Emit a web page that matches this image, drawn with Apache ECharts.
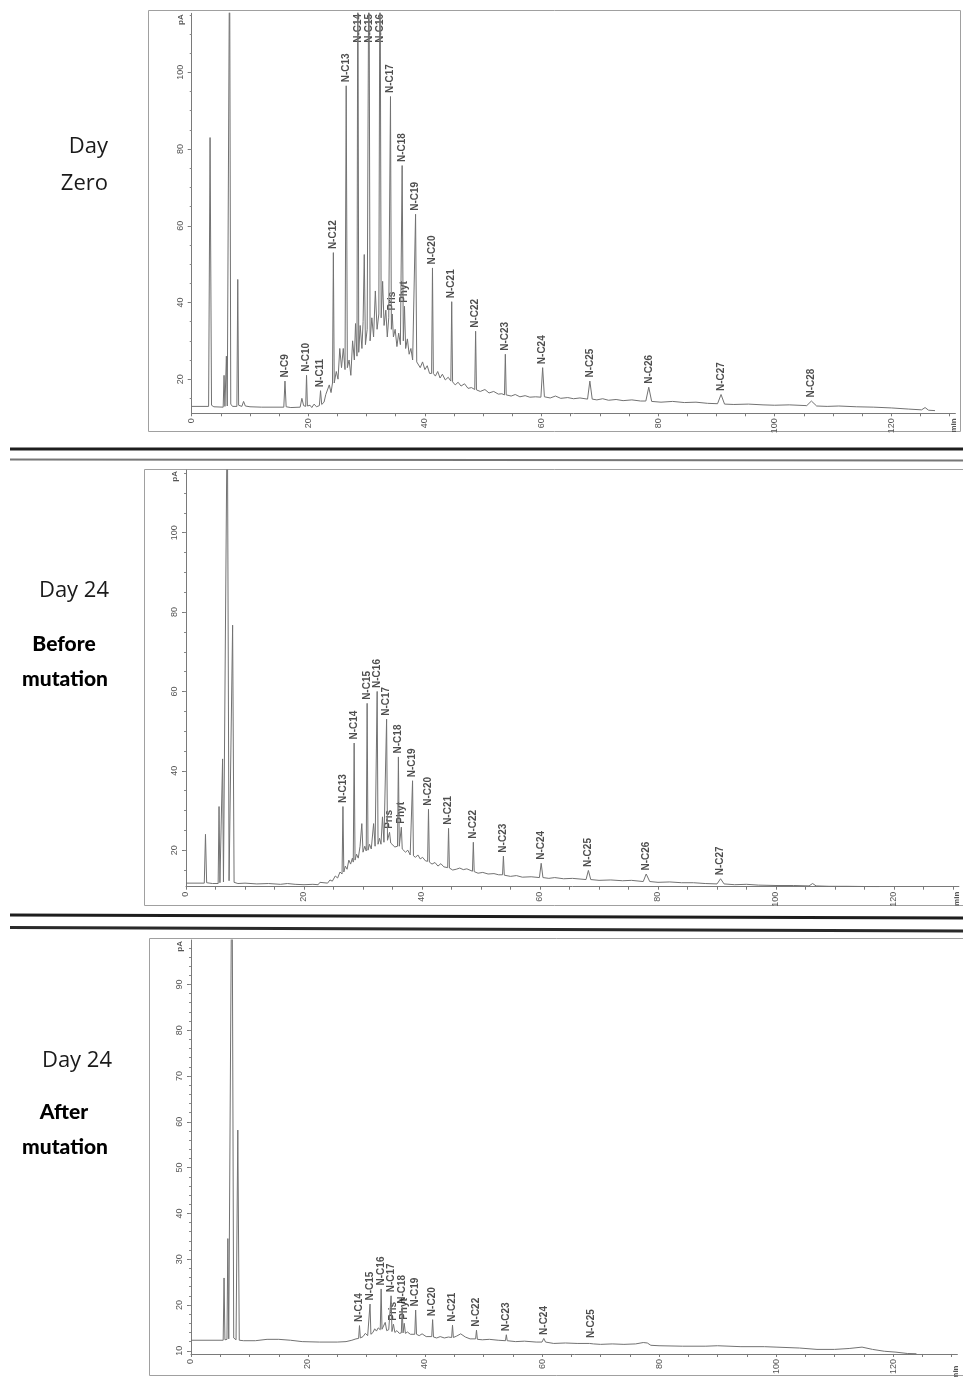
<!DOCTYPE html>
<html>
<head>
<meta charset="utf-8">
<script src="https://cdn.jsdelivr.net/npm/echarts@6/dist/echarts.min.js"></script>
<style>
  html, body { margin: 0; padding: 0; background: #fff; }
  #chart { width: 963px; height: 1377px; }
</style>
</head>
<body>
<div id="chart"></div>
<script>
// GC-FID traces: [retention time (min), signal (pA)]

// Day zero
const day0Trace = [
  [0, 12.9], [2.9, 12.9], [3.15, 83], [3.4, 13.2], [3.8, 12.8], [5.4, 12.7], [5.55, 21], [5.7, 12.9],
  [5.95, 26], [6.1, 13], [6.3, 13.5], [6.5, 135], [6.7, 13.5], [7.0, 12.9], [7.75, 12.9], [7.9, 46],
  [8.05, 13.2], [8.6, 12.9], [8.9, 14.2], [9.2, 13], [10, 12.8], [12, 12.7], [15.8, 12.7], [16.0, 19.5],
  [16.2, 12.8], [17, 12.6], [18.6, 12.7], [18.9, 15], [19.2, 13.1], [19.55, 12.9], [19.7, 21], [19.85, 13.0],
  [20.3, 13.2], [20.6, 12.6], [21.0, 13.5], [21.4, 12.8], [21.9, 13.1], [22.1, 17], [22.3, 13.4], [22.7, 14],
  [23.0, 16], [23.3, 15.5], [23.6, 18.5], [23.9, 16.5], [24.15, 19], [24.3, 53], [24.45, 19], [24.8, 22],
  [25.1, 20], [25.4, 28], [25.7, 23], [26.0, 28], [26.3, 22.5], [26.5, 96.5], [26.7, 23], [27.0, 25],
  [27.3, 21], [27.6, 30], [27.9, 25], [28.1, 34.5], [28.35, 26], [28.5, 140], [28.65, 27], [28.9, 34],
  [29.2, 28], [29.4, 35], [29.6, 52.5], [29.8, 29], [30.1, 33], [30.4, 140], [30.6, 30], [30.9, 36],
  [31.2, 31], [31.5, 43], [31.8, 33], [32.1, 37], [32.3, 140], [32.5, 36], [32.75, 45.5], [33.0, 34],
  [33.3, 38], [33.55, 31], [33.8, 36], [34.1, 93.7], [34.25, 33], [34.4, 37], [34.6, 31], [34.9, 33],
  [35.2, 28.5], [35.5, 32], [35.8, 29], [36.1, 75.7], [36.3, 30], [36.5, 39], [36.7, 28], [37.0, 30.5],
  [37.3, 26.5], [37.6, 28], [37.9, 25], [38.15, 25.5], [38.4, 63], [38.6, 24.5], [38.9, 25], [39.2, 23],
  [39.6, 24.5], [40.0, 22.5], [40.4, 23.5], [40.8, 21.5], [41.15, 21.5], [41.3, 49], [41.45, 21.5], [41.8, 20.8],
  [42.2, 22], [42.6, 20.3], [43.0, 21.3], [43.5, 19.8], [44.0, 20.5], [44.45, 19.5], [44.6, 40.2], [44.75, 19.3],
  [45.2, 18.5], [45.7, 19.2], [46.2, 18.2], [46.8, 18.8], [47.4, 17.6], [48.0, 17.8], [48.55, 17.3], [48.7, 32.5],
  [48.85, 17.2], [49.5, 16.8], [50.3, 17.3], [51, 16.4], [51.8, 16.8], [52.6, 16.1], [53.2, 16.2], [53.65, 15.9],
  [53.8, 26.5], [53.95, 15.9], [54.8, 15.6], [55.5, 16.0], [56.3, 15.4], [57.2, 15.7], [58.0, 15.3], [59.0, 15.4],
  [59.9, 15.3], [60.2, 23], [60.5, 15.4], [61.5, 15.1], [62.4, 15.6], [63.3, 15.0], [64.5, 15.2], [65.5, 14.9],
  [66.6, 15.1], [67.9, 14.8], [68.3, 19.5], [68.7, 14.8], [69.5, 14.6], [70.5, 14.9], [71.5, 14.5], [72.8, 14.7],
  [74.0, 14.4], [75.5, 14.6], [77.0, 14.3], [77.9, 14.3], [78.4, 17.9], [78.9, 14.2], [80.5, 14.0], [82.5, 14.2],
  [84.5, 13.9], [86.5, 14.0], [88.5, 13.7], [90.2, 13.6], [90.8, 16], [91.4, 13.5], [93.0, 13.4], [95.5, 13.5],
  [98, 13.3], [100, 13.2], [102.5, 13.3], [105.5, 13.1], [106.3, 14.3], [107.2, 13.0], [109, 12.9], [111, 13.0],
  [114, 12.8], [117, 12.7], [120, 12.5], [123, 12.2], [125.2, 12.0], [125.8, 12.6], [126.4, 11.9], [127.5, 11.8]
];
const day0PeakNames = ['N-C9', 'N-C10', 'N-C11', 'N-C12', 'N-C13', 'N-C14', 'N-C15', 'N-C16', 'N-C17', 'Pris',
  'N-C18', 'Phyt', 'N-C19', 'N-C20', 'N-C21', 'N-C22', 'N-C23', 'N-C24', 'N-C25', 'N-C26', 'N-C27', 'N-C28'];
const day0PeakTimes = [16.0, 19.7, 22.1, 24.3, 26.5, 28.5, 30.4, 32.3, 34.1, 34.4,
  36.1, 36.5, 38.4, 41.3, 44.6, 48.7, 53.8, 60.2, 68.3, 78.4, 90.8, 106.3];

// Day 24, before mutation
const day24BeforeTrace = [
  [0, 11.7], [3.1, 11.7], [3.3, 24], [3.5, 11.8], [4.5, 11.6], [5.45, 11.6], [5.6, 31], [5.75, 11.8],
  [6.05, 11.9], [6.2, 43], [6.35, 12], [6.5, 12.2], [7.0, 135], [7.3, 12.3], [7.6, 11.8], [7.9, 76.7],
  [8.15, 11.9], [8.8, 11.6], [10, 11.7], [12, 11.5], [14, 11.6], [16, 11.4], [17.2, 11.6], [18.5, 11.4],
  [20, 11.3], [21.5, 11.4], [22.4, 11.3], [22.7, 11.9], [23.0, 11.5], [24.0, 11.7], [24.4, 12.5], [24.8, 12.2],
  [25.3, 13.5], [25.7, 13], [26.1, 14.5], [26.45, 14], [26.6, 31], [26.75, 14.5], [27.0, 16], [27.3, 15.2],
  [27.6, 17.5], [27.9, 16.5], [28.2, 18], [28.35, 17], [28.5, 47], [28.65, 17.5], [28.9, 19], [29.2, 18],
  [29.5, 21], [29.8, 26.7], [30.0, 19.5], [30.3, 21], [30.55, 19.8], [30.7, 57], [30.85, 20], [31.1, 21.5],
  [31.4, 20.3], [31.8, 26.7], [32.05, 21], [32.2, 21.5], [32.4, 60], [32.55, 21.5], [32.8, 23], [33.05, 21.5],
  [33.3, 28.4], [33.55, 22], [33.85, 22], [34.0, 53], [34.15, 22.5], [34.35, 22], [34.5, 24.5], [34.7, 21.8],
  [35.0, 22.3], [35.4, 20.8], [35.85, 21], [36.0, 43.5], [36.15, 21], [36.5, 25.8], [36.65, 20.3], [36.9, 20.6],
  [37.2, 19.5], [37.6, 20], [38.0, 18.8], [38.25, 18.8], [38.4, 37.5], [38.55, 18.6], [38.9, 18.2], [39.3, 18.8],
  [39.7, 17.8], [40.1, 18.2], [40.6, 17.3], [40.95, 17.2], [41.1, 30.3], [41.25, 17], [41.7, 16.5], [42.2, 16.9],
  [42.7, 16.0], [43.2, 16.6], [43.7, 15.8], [44.35, 15.6], [44.5, 25.5], [44.65, 15.5], [45.2, 15.0], [45.8, 15.2],
  [46.4, 15.5], [47.0, 15.1], [47.6, 15.3], [48.55, 14.7], [48.7, 22], [48.85, 14.6], [49.5, 14.2], [50.3, 14.4],
  [51.2, 14.0], [52.2, 14.1], [53.0, 13.8], [53.65, 13.8], [53.8, 18.5], [53.95, 13.7], [55, 13.4], [56, 13.6],
  [57, 13.2], [58.5, 13.3], [59.9, 13.1], [60.2, 16.7], [60.5, 13.1], [61.5, 12.9], [62.5, 13.1], [64, 12.8],
  [65.5, 12.9], [67.8, 12.6], [68.2, 14.9], [68.6, 12.6], [70, 12.4], [72, 12.5], [74, 12.3], [75.5, 12.4],
  [77.5, 12.1], [78.0, 14], [78.6, 12.1], [80, 11.9], [82, 12.0], [84, 11.8], [86, 11.8], [88, 11.6],
  [90.0, 11.5], [90.6, 12.8], [91.2, 11.5], [93, 11.3], [95, 11.4], [97, 11.2], [100, 11.1], [103, 11.1],
  [105.6, 11.0], [106.2, 11.6], [106.8, 11.0], [109, 10.9], [112, 10.9], [115, 10.85], [117.5, 10.8]
];
const day24BeforePeakNames = ['N-C13', 'N-C14', 'N-C15', 'N-C16', 'N-C17', 'Pris', 'N-C18', 'Phyt', 'N-C19',
  'N-C20', 'N-C21', 'N-C22', 'N-C23', 'N-C24', 'N-C25', 'N-C26', 'N-C27'];
const day24BeforePeakTimes = [26.6, 28.5, 30.7, 32.4, 34.0, 34.5, 36.0, 36.5, 38.4,
  41.1, 44.5, 48.7, 53.8, 60.2, 68.2, 78.0, 90.6];

// Day 24, after mutation
const day24AfterTrace = [
  [0, 12.3], [5.5, 12.3], [5.65, 25.9], [5.8, 12.4], [6.15, 12.5], [6.3, 34.5], [6.45, 12.6], [6.7, 12.8],
  [7.0, 125], [7.3, 12.8], [7.7, 12.4], [8.0, 58.2], [8.25, 12.3], [9, 12.2], [11, 12.2], [13, 12.5],
  [15, 12.5], [17, 12.3], [19, 12.0], [22, 11.9], [25, 11.9], [26.5, 12.0], [27.5, 12.3], [28.2, 12.6],
  [28.65, 12.7], [28.8, 15.5], [28.95, 12.8], [29.4, 13.1], [29.8, 13.8], [30.2, 13.3], [30.45, 13.5], [30.6, 20.2],
  [30.75, 13.6], [31.1, 14.0], [31.4, 14.8], [31.7, 14.3], [32.0, 15], [32.35, 14.6], [32.5, 23.5], [32.65, 14.7],
  [32.95, 14.5], [33.2, 16.2], [33.45, 14.4], [33.8, 14.6], [34.05, 14.3], [34.2, 22], [34.35, 14.2], [34.6, 15.8],
  [34.85, 14], [35.2, 14.4], [35.6, 13.8], [35.95, 13.9], [36.1, 19.5], [36.25, 13.9], [36.45, 16], [36.65, 13.8],
  [37.0, 14.1], [37.5, 13.6], [38.25, 13.6], [38.4, 18.9], [38.55, 13.6], [39.0, 13.3], [39.5, 13.7], [40.2, 13.1],
  [41.15, 13.1], [41.3, 16.8], [41.45, 13.0], [42.0, 12.8], [42.6, 13.1], [43.3, 12.8], [44.0, 13.0], [44.55, 12.9],
  [44.7, 15.6], [44.85, 12.9], [45.4, 13.2], [46.1, 13.7], [46.9, 13.0], [47.7, 12.6], [48.65, 12.6], [48.8, 14.5],
  [48.95, 12.5], [49.8, 12.4], [51, 12.5], [52.5, 12.3], [53.75, 12.2], [53.9, 13.5], [54.05, 12.2], [55.5, 12.0],
  [57, 12.1], [59, 11.9], [60.0, 11.9], [60.3, 12.7], [60.6, 11.9], [62, 11.6], [64, 11.7], [66, 11.6],
  [68.1, 11.6], [68.4, 12.0], [68.8, 11.5], [70, 11.4], [72, 11.5], [74, 11.4], [76, 11.5], [77.3, 11.8],
  [78.0, 11.7], [78.6, 11.2], [80, 11.1], [84, 11.0], [88, 11.0], [90, 11.1], [94, 10.9], [98, 10.9],
  [100, 10.8], [104, 10.6], [107, 10.3], [110, 10.3], [112.5, 10.5], [114.7, 10.8], [116.5, 10.3], [118.5, 9.9],
  [120.5, 9.7], [122.5, 9.4], [124, 9.35]
];
const day24AfterPeakNames = ['N-C14', 'N-C15', 'N-C16', 'N-C17', 'Pris', 'N-C18', 'Phyt', 'N-C19',
  'N-C20', 'N-C21', 'N-C22', 'N-C23', 'N-C24', 'N-C25'];
const day24AfterPeakTimes = [28.8, 30.6, 32.5, 34.2, 34.6, 36.1, 36.45, 38.4,
  41.3, 44.7, 48.8, 53.9, 60.3, 68.4];

// Axis tick labels
const timeTickLabels = [0, 20, 40, 60, 80, 100, 120];
const signalTicksWide = [20, 40, 60, 80, 100];
const signalTicksNarrow = [10, 20, 30, 40, 50, 60, 70, 80, 90];

// Panel captions
const captionDay0 = ['Day', 'Zero'];
const captionBefore = ['Day 24', 'Before', 'mutation'];
const captionAfter = ['Day 24', 'After', 'mutation'];

const panels = [
  { trace: day0Trace, names: day0PeakNames, times: day0PeakTimes,
    left: 191.7, top: 13.3, width: 763.7, height: 400, yMin: 11.1, yMax: 115.4,
    yLabels: signalTicksWide, yMinor: 5, frame: [148, 10, 812, 421] },
  { trace: day24BeforeTrace, names: day24BeforePeakNames, times: day24BeforePeakTimes,
    left: 186, top: 470, width: 772.9, height: 416.7, yMin: 10.8, yMax: 115.8,
    yLabels: signalTicksWide, yMinor: 5, frame: [144, 469, 830, 436] },
  { trace: day24AfterTrace, names: day24AfterPeakNames, times: day24AfterPeakTimes,
    left: 191, top: 940, width: 766.4, height: 420.5, yMin: 9.3, yMax: 99.7,
    yLabels: signalTicksNarrow, yMinor: 2, frame: [149, 938, 830, 437] }
];
const X_MAX = 131;

function stepValues(from, to, step) {
  const out = [];
  for (let v = from; v <= to + 1e-9; v += step) out.push(Math.round(v * 100) / 100);
  return out;
}

// height of the trace at a labelled retention time
function apexAt(trace, t) {
  let best = null;
  trace.forEach(p => { if (Math.abs(p[0] - t) < 0.011 && (best === null || p[1] > best)) best = p[1]; });
  return best;
}

const grid = [], xAxis = [], yAxis = [], series = [], graphic = [];
const axisColor = '#7a7a7a';
const tickFont = { fontSize: 9, color: '#555', fontFamily: 'Liberation Sans' };

panels.forEach((p, i) => {
  grid.push({ left: p.left, top: p.top, width: p.width, height: p.height, containLabel: false });
  xAxis.push({
    type: 'value', gridIndex: i, min: 0, max: X_MAX, position: 'bottom',
    axisLine: { show: true, onZero: false, lineStyle: { color: axisColor, width: 1 } },
    axisTick: { show: true, customValues: stepValues(0, 130, 5), length: 3, lineStyle: { color: axisColor } },
    axisLabel: Object.assign({ show: true, customValues: timeTickLabels, rotate: 90, margin: 5 }, tickFont),
    splitLine: { show: false }
  });
  // main signal axis: line, major ticks and labels
  yAxis.push({
    type: 'value', gridIndex: i, min: p.yMin, max: p.yMax, position: 'left',
    axisLine: { show: true, onZero: false, lineStyle: { color: axisColor, width: 1 } },
    axisTick: { show: true, customValues: p.yLabels, length: 4, lineStyle: { color: axisColor } },
    axisLabel: Object.assign({ show: true, customValues: p.yLabels, rotate: 90, margin: 7 }, tickFont),
    splitLine: { show: false }
  });
  // companion axis on the same side carrying the short minor ticks
  yAxis.push({
    type: 'value', gridIndex: i, min: p.yMin, max: p.yMax, position: 'left', offset: 0,
    axisLine: { show: false, onZero: false },
    axisTick: { show: true, customValues: stepValues(Math.ceil(p.yMin / p.yMinor) * p.yMinor, p.yMax, p.yMinor),
      length: 2, lineStyle: { color: '#8a8a8a' } },
    axisLabel: { show: false },
    splitLine: { show: false }
  });

  series.push({
    type: 'line', xAxisIndex: i, yAxisIndex: 2 * i, data: p.trace,
    showSymbol: false, symbol: 'none', clip: true,
    lineStyle: { color: '#727272', width: 1 }, silent: true, animation: false
  });

  const ppu = p.height / (p.yMax - p.yMin);
  const capY = p.yMax - 33 / ppu;
  series.push({
    type: 'scatter', xAxisIndex: i, yAxisIndex: 2 * i, symbolSize: 1,
    itemStyle: { color: 'rgba(0,0,0,0)' }, silent: true, animation: false, clip: false,
    data: p.names.map((n, k) => {
      const h = apexAt(p.trace, p.times[k]);
      return { value: [p.times[k], Math.min(h, capY)], name: n };
    }),
    label: {
      show: true, position: 'top', distance: 3, rotate: 90, align: 'left', verticalAlign: 'middle',
      formatter: '{b}', fontSize: 10, fontWeight: 'bold', fontFamily: 'Liberation Sans', color: '#222'
    },
    labelLayout: { hideOverlap: false }
  });

  // panel frame
  graphic.push({ type: 'rect', silent: true, shape: { x: p.frame[0] + 0.5, y: p.frame[1] + 0.5, width: p.frame[2], height: p.frame[3] },
    style: { fill: 'none', stroke: '#a0a0a0', lineWidth: 1 } });
  // unit captions at the axis ends
  graphic.push({ type: 'text', silent: true, x: p.left - 11, y: p.top + 1, rotation: Math.PI / 2,
    style: { text: 'pA', align: 'right', verticalAlign: 'middle', fontSize: 8, fontWeight: 'bold', fontFamily: 'Liberation Sans', fill: '#555' } });
  graphic.push({ type: 'text', silent: true, x: p.left + p.width - 2, y: p.top + p.height + 5, rotation: Math.PI / 2,
    style: { text: 'min', align: 'right', verticalAlign: 'middle', fontSize: 8, fontWeight: 'bold', fontFamily: 'Liberation Sans', fill: '#555' } });
});

// separators between panels
[
  { y1: 449, y2: 449, w: 3, c: '#1e1e1e' },
  { y1: 459.5, y2: 460.5, w: 2, c: '#777' },
  { y1: 915, y2: 918, w: 3, c: '#1e1e1e' },
  { y1: 927.5, y2: 931, w: 3, c: '#2a2a2a' }
].forEach(s => graphic.push({ type: 'line', silent: true, shape: { x1: 10, y1: s.y1, x2: 963, y2: s.y2 },
  style: { stroke: s.c, lineWidth: s.w } }));

// left captions
const regular = { fontSize: 22, fontFamily: 'Open Sans', fill: '#1a1a1a', verticalAlign: 'middle' };
const heavy = { fontSize: 21, fontWeight: 900, fontFamily: 'Lato', fill: '#000', verticalAlign: 'middle', align: 'center' };
graphic.push({ type: 'text', silent: true, x: 108, y: 147, style: Object.assign({ text: captionDay0[0], align: 'right' }, regular) });
graphic.push({ type: 'text', silent: true, x: 108, y: 184, style: Object.assign({ text: captionDay0[1], align: 'right' }, regular) });
graphic.push({ type: 'text', silent: true, x: 109, y: 591, style: Object.assign({ text: captionBefore[0], align: 'right' }, regular) });
graphic.push({ type: 'text', silent: true, x: 64, y: 644, style: Object.assign({ text: captionBefore[1] }, heavy) });
graphic.push({ type: 'text', silent: true, x: 65, y: 679, style: Object.assign({ text: captionBefore[2] }, heavy) });
graphic.push({ type: 'text', silent: true, x: 112, y: 1061, style: Object.assign({ text: captionAfter[0], align: 'right' }, regular) });
graphic.push({ type: 'text', silent: true, x: 64, y: 1112, style: Object.assign({ text: captionAfter[1] }, heavy) });
graphic.push({ type: 'text', silent: true, x: 65, y: 1147, style: Object.assign({ text: captionAfter[2] }, heavy) });

const chart = echarts.init(document.getElementById('chart'), null, { renderer: 'canvas' });
chart.setOption({
  animation: false,
  backgroundColor: '#fff',
  grid, xAxis, yAxis, series, graphic
});
</script>
</body>
</html>
